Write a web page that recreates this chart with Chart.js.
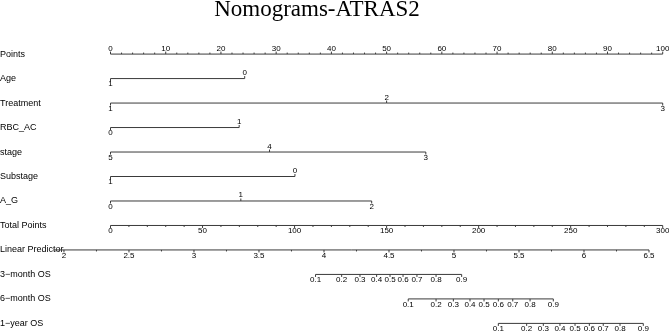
<!DOCTYPE html>
<html>
<head>
<meta charset="utf-8">
<script src="https://cdn.jsdelivr.net/npm/chart.js@4.4.1/dist/chart.umd.min.js"></script>
<style>
  html, body { margin: 0; padding: 0; background: #fff; }
</style>
</head>
<body>
<canvas id="nomo" width="669" height="332"></canvas>
<script>
// rows of the nomogram, top to bottom
const ROW_NAMES = ['Points', 'Age', 'Treatment', 'RBC_AC', 'stage', 'Substage', 'A_G',
  'Total Points', 'Linear Predictor', '3\u2212month OS', '6\u2212month OS', '1\u2212year OS'];

// points scale
const POINTS_TICKS = [0, 10, 20, 30, 40, 50, 60, 70, 80, 90, 100];

// predictors : level labels and their points
const AGE_LEVELS = ['1', '0'];
const AGE_POINTS = [0, 24.3];
const TREATMENT_LEVELS = ['1', '2', '3'];
const TREATMENT_POINTS = [0, 50, 100];
const RBC_AC_LEVELS = ['0', '1'];
const RBC_AC_POINTS = [0, 23.3];
const STAGE_LEVELS = ['5', '4', '3'];
const STAGE_POINTS = [0, 28.8, 57.1];
const SUBSTAGE_LEVELS = ['1', '0'];
const SUBSTAGE_POINTS = [0, 33.4];
const AG_LEVELS = ['0', '1', '2'];
const AG_POINTS = [0, 23.6, 47.3];

// total points and linear predictor
const TOTAL_TICKS = [0, 50, 100, 150, 200, 250, 300];
const TOTAL_MAX = 300;
const LP_TICKS = [2, 2.5, 3, 3.5, 4, 4.5, 5, 5.5, 6, 6.5];
const LP_RANGE = [1.92, 6.5];
const LP_AT_ZERO = 2.358;      // linear predictor at 0 total points
const LP_PER_TOTAL = 0.014158; // linear predictor per total point

// survival probabilities and the linear predictor where they sit
const SURV_PROBS = [0.1, 0.2, 0.3, 0.4, 0.5, 0.6, 0.7, 0.8, 0.9];
const OS3_LP = [3.935, 4.136, 4.277, 4.405, 4.508, 4.608, 4.715, 4.862, 5.059];
const OS6_LP = [4.648, 4.862, 4.995, 5.123, 5.231, 5.341, 5.452, 5.585, 5.764];
const OS12_LP = [5.341, 5.559, 5.687, 5.815, 5.931, 6.041, 6.148, 6.277, 6.456];

// conversions to the points scale
const totalToPoints = tp => tp * 100 / TOTAL_MAX;
const lpToPoints = lp => totalToPoints((lp - LP_AT_ZERO) / LP_PER_TOTAL);

// layout
const LINE = '#3a3a3a';
const X_MIN = -8.06, X_MAX = 94.8;
const AXIS_W = 66;

function steps(from, to, by) {
  const out = [];
  for (let v = from; v <= to + 1e-9; v += by) out.push(+v.toFixed(4));
  return out;
}

function factorRow(name, levels, pts) {
  // labels alternate below / above, like rms does
  const order = pts.map((p, i) => i).sort((a, b) => pts[a] - pts[b]);
  const ticks = order.map((i, k) => ({ x: pts[i], label: levels[i], dir: k % 2 === 0 ? 1 : -1 }));
  return { row: name, from: Math.min(...pts), to: Math.max(...pts), ticks: ticks, minor: [] };
}

const AXES = [];
AXES.push({
  row: 'Points', from: 0, to: 100,
  ticks: POINTS_TICKS.map(v => ({ x: v, label: String(v), dir: -1 })),
  minor: steps(0, 100, 2).filter(v => v % 10 !== 0), minorDir: -1
});
AXES.push(factorRow('Age', AGE_LEVELS, AGE_POINTS));
AXES.push(factorRow('Treatment', TREATMENT_LEVELS, TREATMENT_POINTS));
AXES.push(factorRow('RBC_AC', RBC_AC_LEVELS, RBC_AC_POINTS));
AXES.push(factorRow('stage', STAGE_LEVELS, STAGE_POINTS));
AXES.push(factorRow('Substage', SUBSTAGE_LEVELS, SUBSTAGE_POINTS));
AXES.push(factorRow('A_G', AG_LEVELS, AG_POINTS));
AXES.push({
  row: 'Total Points', from: 0, to: totalToPoints(TOTAL_MAX),
  ticks: TOTAL_TICKS.map(v => ({ x: totalToPoints(v), label: String(v), dir: 1 })),
  minor: steps(0, 300, 10).filter(v => v % 50 !== 0).map(totalToPoints), minorDir: 1
});
AXES.push({
  row: 'Linear Predictor', from: lpToPoints(LP_RANGE[0]), to: lpToPoints(LP_RANGE[1]),
  ticks: LP_TICKS.map(v => ({ x: lpToPoints(v), label: String(v), dir: 1 })),
  minor: steps(2.25, 6.25, 0.5).map(lpToPoints), minorDir: 1
});
[['3\u2212month OS', OS3_LP], ['6\u2212month OS', OS6_LP], ['1\u2212year OS', OS12_LP]].forEach(([name, lps]) => {
  AXES.push({
    row: name, from: lpToPoints(lps[0]), to: lpToPoints(lps[lps.length - 1]),
    ticks: lps.map((lp, i) => ({ x: lpToPoints(lp), label: SURV_PROBS[i].toFixed(1), dir: 1 })),
    minor: []
  });
});

// tick marks and their labels on every row
const nomoTicks = {
  id: 'nomoTicks',
  afterDatasetsDraw(chart) {
    const { ctx, scales: { x, y } } = chart;
    ctx.save();
    ctx.strokeStyle = LINE;
    ctx.fillStyle = '#000';
    ctx.lineWidth = 1;
    ctx.font = '8px "Liberation Sans", Arial, sans-serif';
    ctx.textAlign = 'center';
    ctx.textBaseline = 'middle';
    AXES.forEach(a => {
      const py = y.getPixelForValue(ROW_NAMES.indexOf(a.row));
      a.minor.forEach(v => {
        const px = x.getPixelForValue(v);
        ctx.beginPath();
        ctx.moveTo(px, py);
        ctx.lineTo(px, py + a.minorDir * 1.5);
        ctx.stroke();
      });
      a.ticks.forEach(t => {
        const px = x.getPixelForValue(t.x);
        ctx.beginPath();
        ctx.moveTo(px, py);
        ctx.lineTo(px, py + t.dir * 2.5);
        ctx.stroke();
        ctx.fillText(t.label, px, py + t.dir * 5.7);
      });
    });
    ctx.restore();
  }
};

new Chart(document.getElementById('nomo'), {
  type: 'line',
  data: {
    datasets: AXES.map(a => ({
      label: a.row,
      data: [{ x: a.from, y: a.row }, { x: a.to, y: a.row }],
      borderColor: LINE,
      borderWidth: 1,
      pointRadius: 0,
      clip: false
    }))
  },
  options: {
    responsive: false,
    animation: false,
    layout: { padding: { left: 0, right: 35, top: 0, bottom: 8.6 } },
    plugins: {
      legend: { display: false },
      tooltip: { enabled: false },
      title: {
        display: true,
        text: 'Nomograms-ATRAS2',
        color: '#000',
        font: { family: '"Liberation Serif", "Times New Roman", serif', size: 23, weight: 'normal', lineHeight: 0.83 },
        padding: { top: 0, bottom: 35 }
      }
    },
    scales: {
      x: { type: 'linear', display: false, min: X_MIN, max: X_MAX },
      y: {
        type: 'category',
        labels: ROW_NAMES,
        offset: false,
        grid: { display: false },
        border: { display: false },
        ticks: {
          crossAlign: 'far',
          padding: 0,
          autoSkip: false,
          color: '#000',
          font: { family: '"Liberation Sans", Arial, sans-serif', size: 9 }
        },
        afterFit: s => { s.width = AXIS_W; }
      }
    }
  },
  plugins: [nomoTicks]
});
</script>
</body>
</html>
